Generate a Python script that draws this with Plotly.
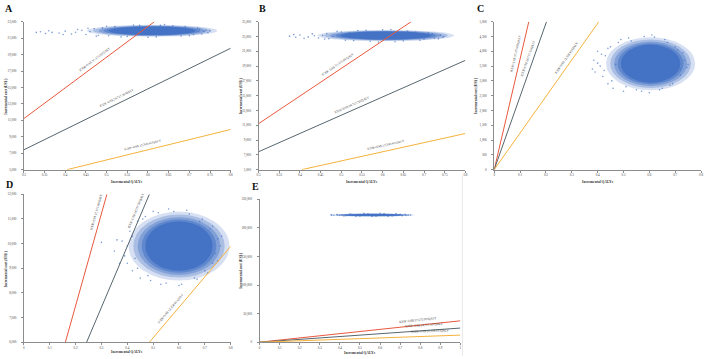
import math
import plotly.graph_objects as go

W, H = 708, 359

# ---------------- data ----------------
icer_values = [37373.00, 24717.30, 12358.65]
icer_labels = ["ICER=US$ 37,373.00/QALY", "ICER=US$ 24,717.30/QALY", "ICER=US$ 12,358.65/QALY"]

panel_names = ["A", "B", "C", "D", "E"]

x_ticks_A = [0.3, 0.35, 0.4, 0.45, 0.5, 0.55, 0.6, 0.65, 0.7, 0.75, 0.8]
y_ticks_A = [5000, 7000, 9000, 11000, 13000, 15000, 17000, 19000, 21000, 23000]
x_ticks_B = [0.3, 0.35, 0.4, 0.45, 0.5, 0.55, 0.6, 0.65, 0.7, 0.75, 0.8]
y_ticks_B = [5000, 7000, 9000, 11000, 13000, 15000, 17000, 19000, 21000, 23000, 25000]
x_ticks_C = [0, 0.1, 0.2, 0.3, 0.4, 0.5, 0.6, 0.7, 0.8]
y_ticks_C = [0, 500, 1000, 1500, 2000, 2500, 3000, 3500, 4000, 4500, 5000]
x_ticks_D = [0, 0.1, 0.2, 0.3, 0.4, 0.5, 0.6, 0.7, 0.8]
y_ticks_D = [6000, 7000, 8000, 9000, 10000, 11000, 12000]
x_ticks_E = [0, 0.1, 0.2, 0.3, 0.4, 0.5, 0.6, 0.7, 0.8, 0.9, 1]
y_ticks_E = [0, 50000, 100000, 150000, 200000, 250000]

x_ticks = [x_ticks_A, x_ticks_B, x_ticks_C, x_ticks_D, x_ticks_E]
y_ticks = [y_ticks_A, y_ticks_B, y_ticks_C, y_ticks_D, y_ticks_E]

# simulated-cloud summary (centre and dense-core half-widths)
cloud_center_x = [0.61, 0.608, 0.605, 0.60, 0.565]
cloud_center_y = [21900, 23130, 3580, 9900, 222450]
cloud_core_rx = [0.105, 0.11, 0.115, 0.13, 0.14]
cloud_core_ry = [520, 540, 640, 1000, 1900]

# sparse points visible around each cloud
A_pts_x = [0.34, 0.352, 0.368, 0.385, 0.40, 0.415, 0.425, 0.44, 0.45, 0.46, 0.47, 0.48, 0.49, 0.52, 0.55, 0.58, 0.62, 0.66, 0.70, 0.72, 0.735, 0.745, 0.75, 0.73, 0.505, 0.64,
           0.36, 0.395, 0.43, 0.455, 0.475, 0.50, 0.535, 0.565, 0.60, 0.63, 0.68, 0.69, 0.71, 0.725, 0.74, 0.33]
A_pts_y = [21780, 21560, 21700, 21620, 21850, 21500, 21720, 21950, 21450, 21800, 22150, 21350, 22250, 22400, 21200, 22550, 21150, 22500, 21300, 22250, 21800, 21650, 21900, 21500, 21300, 22650,
           21900, 21450, 22050, 22200, 21250, 22450, 21150, 22600, 21100, 22550, 21250, 22400, 21450, 22100, 21950, 21700]
B_pts_x = [0.375, 0.39, 0.40, 0.42, 0.43, 0.445, 0.455, 0.465, 0.47, 0.48, 0.50, 0.51, 0.54, 0.57, 0.60, 0.63, 0.66, 0.69, 0.71, 0.725, 0.74, 0.748, 0.735, 0.52,
           0.385, 0.41, 0.435, 0.46, 0.49, 0.53, 0.56, 0.59, 0.62, 0.65, 0.68, 0.70, 0.72, 0.745]
B_pts_y = [23050, 22900, 23200, 22950, 23350, 22800, 23150, 23400, 22700, 23000, 23600, 22500, 23800, 22350, 23900, 22300, 23750, 22500, 23500, 22800, 23200, 23000, 22700, 23500,
           23250, 22750, 23100, 22650, 23700, 22450, 23850, 22250, 23950, 22400, 23600, 22650, 23350, 22900]
C_pts_x = [0.385, 0.39, 0.40, 0.41, 0.42, 0.43, 0.44, 0.45, 0.46, 0.48, 0.50, 0.52, 0.55, 0.58, 0.60, 0.62, 0.65, 0.67, 0.69, 0.71, 0.72, 0.735, 0.745, 0.70, 0.47,
           0.40, 0.415, 0.425, 0.44, 0.455, 0.49, 0.51, 0.53, 0.57, 0.61, 0.64, 0.66, 0.68, 0.70, 0.72, 0.73, 0.75, 0.38]
C_pts_y = [3700, 3300, 4000, 3500, 3150, 3850, 2900, 4150, 2750, 4300, 2650, 4450, 2700, 4500, 2600, 4480, 2750, 4300, 2900, 4050, 3200, 3700, 3450, 3850, 3550,
           3600, 3900, 3350, 4100, 3000, 4400, 2800, 4350, 2650, 4550, 2700, 4400, 2850, 4150, 3400, 3950, 3550, 3400]
D_pts_x = [0.35, 0.30, 0.37, 0.40, 0.41, 0.42, 0.44, 0.45, 0.47, 0.49, 0.52, 0.55, 0.58, 0.61, 0.64, 0.66, 0.68, 0.70, 0.72, 0.74, 0.75, 0.765, 0.73, 0.43, 0.39,
           0.38, 0.40, 0.42, 0.44, 0.46, 0.48, 0.50, 0.53, 0.56, 0.60, 0.63, 0.67, 0.69, 0.71, 0.73, 0.75, 0.76, 0.36]
D_pts_y = [9700, 10050, 9200, 9900, 10500, 8900, 10900, 8600, 11100, 8500, 11250, 8400, 11300, 8350, 11200, 8600, 10900, 8900, 10600, 9600, 10200, 10300, 9200, 9400, 9500,
           10100, 9200, 10300, 9000, 11000, 8700, 11300, 8350, 11400, 8300, 11350, 8550, 11000, 8800, 10700, 9300, 9900, 10150]
E_pts_x = [0.356, 0.37, 0.385, 0.40, 0.41, 0.42, 0.45, 0.48, 0.52, 0.56, 0.60, 0.64, 0.68, 0.71, 0.725, 0.74, 0.752,
           0.36, 0.39, 0.43, 0.46, 0.50, 0.54, 0.58, 0.62, 0.66, 0.70, 0.73]
E_pts_y = [222600, 222000, 223000, 221800, 222900, 220600, 224700, 220000, 225200, 219800, 225300, 220000, 224800, 221000, 223500, 222200, 222500,
           222200, 222500, 221200, 223800, 220500, 224600, 220300, 224900, 220600, 223800, 221500]

pts_x = [A_pts_x, B_pts_x, C_pts_x, D_pts_x, E_pts_x]
pts_y = [A_pts_y, B_pts_y, C_pts_y, D_pts_y, E_pts_y]

# ---------------- layout / style ----------------
boxes = [(22, 230, 20, 170), (258, 466, 20, 170), (495, 703, 20, 170),
         (22, 230, 195, 345), (259, 461, 200, 345)]
line_colors = ["#E8583E", "#56666F", "#F5B23E"]
cloud_color = "#4472C4"
serif = "Liberation Serif"
axis_color = "#8c8c8c"
tick_font = dict(family=serif, size=3.2, color="#404040")
# soft edge layers for the dense core: (x scale, y scale, opacity)
halo_layers = [(1.5, 1.4, 0.22), (1.36, 1.28, 0.3), (1.23, 1.17, 0.4), (1.11, 1.08, 0.55), (1.0, 1.0, 1.0)]

label_x = [[0.48, 0.53, 0.59], [0.50, 0.53, 0.61], [0.104, 0.15, 0.296],
           [0.30, 0.455, 0.585], [0.79, 0.82, 0.85]]
label_off = [[5, 5, 5], [5, 5, 5], [5, 5, 5], [5, 5, 5], [5, 5, 5]]

fig = go.Figure()
shapes = []
annotations = []

for i, p in enumerate(panel_names):
    L, R, T, B = boxes[i]
    xr = [x_ticks[i][0], x_ticks[i][-1]]
    yr = [y_ticks[i][0], y_ticks[i][-1]]
    xa = "x" if i == 0 else f"x{i+1}"
    ya = "y" if i == 0 else f"y{i+1}"
    xkey = "xaxis" if i == 0 else f"xaxis{i+1}"
    ykey = "yaxis" if i == 0 else f"yaxis{i+1}"

    fig.layout[xkey] = dict(
        domain=[L / W, R / W], range=xr, anchor=ya,
        tickvals=x_ticks[i], ticktext=[f"{v:g}" for v in x_ticks[i]],
        showgrid=False, zeroline=False, showline=True, linecolor=axis_color, linewidth=0.8,
        ticks="outside", ticklen=2, tickcolor=axis_color, tickwidth=0.6, tickfont=tick_font,
    )
    fig.layout[ykey] = dict(
        domain=[1 - B / H, 1 - T / H], range=yr, anchor=xa,
        tickvals=y_ticks[i], ticktext=[f"{v:,}" for v in y_ticks[i]],
        showgrid=False, zeroline=False, showline=True, linecolor=axis_color, linewidth=0.8,
        ticks="outside", ticklen=2, tickcolor=axis_color, tickwidth=0.6, tickfont=tick_font,
        ticklabelstandoff=4,
    )

    for sx, sy, op in halo_layers:
        rx = cloud_core_rx[i] * sx
        ry = cloud_core_ry[i] * sy
        shapes.append(dict(type="circle", xref=xa, yref=ya, layer="below",
                           x0=cloud_center_x[i] - rx, x1=cloud_center_x[i] + rx,
                           y0=cloud_center_y[i] - ry, y1=cloud_center_y[i] + ry,
                           fillcolor=cloud_color, opacity=op, line=dict(width=0)))

    fig.add_trace(go.Scatter(x=pts_x[i], y=pts_y[i], mode="markers", xaxis=xa, yaxis=ya,
                             marker=dict(size=1.6, color=cloud_color, opacity=0.7),
                             showlegend=False, hoverinfo="skip"))

    pxx = (R - L) / (xr[1] - xr[0])
    pxy = (B - T) / (yr[1] - yr[0])
    for k, icer in enumerate(icer_values):
        x0 = max(xr[0], yr[0] / icer)
        x1 = min(xr[1], yr[1] / icer)
        fig.add_trace(go.Scatter(x=[x0, x1], y=[icer * x0, icer * x1], mode="lines",
                                 xaxis=xa, yaxis=ya, line=dict(color=line_colors[k], width=1),
                                 showlegend=False, hoverinfo="skip"))
        ang = math.atan(icer * pxy / pxx)
        lx = label_x[i][k]
        d = label_off[i][k]
        annotations.append(dict(
            x=lx, y=icer * lx, xref=xa, yref=ya, text=icer_labels[k], showarrow=False,
            xanchor="center", yanchor="middle",
            textangle=-math.degrees(ang), xshift=-d * math.sin(ang), yshift=d * math.cos(ang),
            font=dict(family=serif, size=3.2, color="#333333")))

xt_pos = [(126, 183), (362, 183), (599, 183), (126, 355), (360, 356)]
yt_pos = [(4, 95), (240, 95), (476, 95), (4, 270), (241, 272)]
letter_pos = [(7, 7), (262, 7), (481, 7), (8, 185), (255, 187)]
for i, p in enumerate(panel_names):
    annotations.append(dict(x=xt_pos[i][0] / W, y=1 - xt_pos[i][1] / H, xref="paper", yref="paper",
                            xanchor="center", yanchor="middle",
                            text="<b>Incremental QALYs</b>", showarrow=False,
                            font=dict(family=serif, size=3.6, color="#333333")))
    annotations.append(dict(x=yt_pos[i][0] / W, y=1 - yt_pos[i][1] / H, xref="paper", yref="paper",
                            xanchor="center", yanchor="middle",
                            text="<b>Incremental cost (US$ )</b>", showarrow=False, textangle=-90,
                            font=dict(family=serif, size=3.6, color="#333333")))
    annotations.append(dict(x=letter_pos[i][0] / W, y=1 - letter_pos[i][1] / H, xref="paper", yref="paper",
                            xanchor="center", yanchor="middle",
                            text=f"<b>{p}</b>", showarrow=False,
                            font=dict(family=serif, size=10, color="#111111")))

shapes.append(dict(type="line", xref="paper", yref="paper", x0=463 / W, x1=463 / W,
                   y0=0, y1=1 - 176 / H, line=dict(color="#e8e8e8", width=1)))

fig.update_layout(width=W, height=H, margin=dict(l=0, r=0, t=0, b=0),
                  plot_bgcolor="white", paper_bgcolor="white",
                  shapes=shapes, annotations=annotations, showlegend=False)

fig.write_html("out.html")
